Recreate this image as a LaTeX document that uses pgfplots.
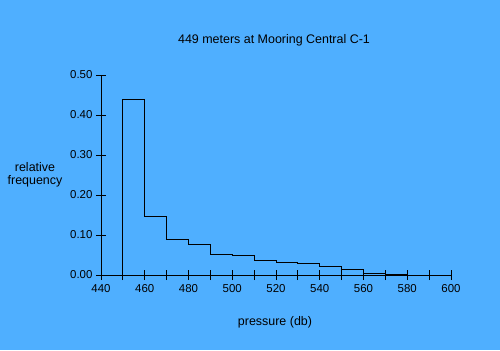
\documentclass[border=0pt]{standalone}
\usepackage{pgfplots}
\pgfplotsset{compat=1.18}
\usepackage{fontspec}
\setmainfont{Liberation Sans}
\definecolor{bgblue}{RGB}{79,175,255}
\begin{document}
\begin{tikzpicture}[x=1bp,y=1bp]
\fill[bgblue] (0,0) rectangle (500,350);
\useasboundingbox (0,0) rectangle (500,350);
\begin{axis}[
  at={(101bp,75bp)}, anchor=south west,
  scale only axis, width=350bp, height=200bp,
  xmin=440, xmax=600, ymin=0, ymax=0.5,
  axis x line*=bottom, axis y line*=left,
  axis line style={-, black, line width=0.8pt},
  xtick={440,460,...,600},
  minor xtick={450,470,...,590},
  ytick={0,0.1,...,0.5},
  tick align=center,
  major tick length=10bp, minor tick length=10bp,
  tick style={black, line width=0.8pt},
  yticklabel style={/pgf/number format/.cd, fixed, fixed zerofill, precision=2},
  /pgf/number format/assume math mode=true,
  ticklabel style={font=\fontsize{11.5}{13}\selectfont},
  xticklabel style={yshift=-1bp},
  clip=false,
]
\addplot[const plot, black, line width=0.8pt] coordinates {
(450,0) (450,0.44) (460,0.1475) (470,0.089) (480,0.0775) (490,0.052)
(500,0.049) (510,0.037) (520,0.032) (530,0.029) (540,0.0217) (550,0.014)
(560,0.004) (570,0.002) (580,0.002) (580,0)
};
\end{axis}
\node[font=\fontsize{12.5}{14}\selectfont] at (274,310) {449 meters at Mooring Central C-1};
\node[font=\fontsize{12.5}{14}\selectfont] at (275,28) {pressure (db)};
\node[font=\fontsize{12.5}{13.5}\selectfont, align=center] at (35,175) {relative\\frequency};
\end{tikzpicture}
\end{document}
